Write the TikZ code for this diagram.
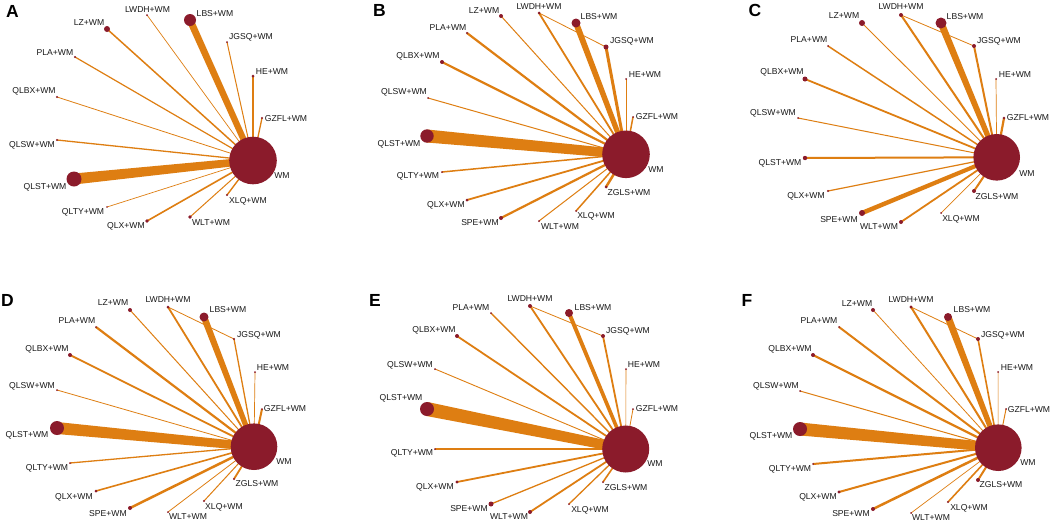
\documentclass[tikz,border=0pt]{standalone}
\usepackage{fontspec}
\setmainfont{Liberation Sans}
\usetikzlibrary{calc}
\definecolor{edgecol}{RGB}{222,126,18}
\definecolor{nodecol}{RGB}{139,27,43}
\pgfdeclarelayer{back}
\pgfdeclarelayer{edges}
\pgfsetlayers{back,edges,main}
\tikzset{
  netnode/.style={circle,fill=nodecol,draw=none,inner sep=0pt,outer sep=0pt},
  lbl/.style={inner sep=0pt,font=\fontsize{8.6}{10}\selectfont,text=black!90},
  ptitle/.style={inner sep=0pt,font=\fontsize{17.5}{20}\selectfont\bfseries},
}
\newcommand\nd[4]{\node[netnode,minimum size=#4*2pt] (#1) at (#2,#3) {};}
\newcommand\lb[4]{\node[lbl] (#1) at (#2,#3) {#4};}
\newcommand\ed[4]{\fill[edgecol] ($(#1.center)!#3*0.5pt!90:(#2.center)$) -- ($(#2.center)!#4*0.5pt!-90:(#1.center)$) -- ($(#2.center)!#4*0.5pt!90:(#1.center)$) -- ($(#1.center)!#3*0.5pt!-90:(#2.center)$) -- cycle;}
\begin{document}
\begin{tikzpicture}[x=1pt,y=-1pt]
\begin{pgfonlayer}{back}
\fill[white] (0,0) rectangle (1052,523);
\end{pgfonlayer}
\useasboundingbox (0,0) rectangle (1052,523);
% ================= Panel A
\node[ptitle] (ta) at (12.5,11) {A};
\nd{a-wm}{253}{160.5}{23.8}
\nd{a-lbs}{190}{20}{6}
\nd{a-lz}{107}{29}{3}
\nd{a-lwdh}{147}{15}{1}
\nd{a-jgsq}{227}{42}{1}
\nd{a-pla}{75}{57}{1.1}
\nd{a-he}{253}{76}{1.5}
\nd{a-qlbx}{57}{97}{1.1}
\nd{a-gzfl}{262}{118}{1.2}
\nd{a-qlsw}{57}{140}{1.1}
\nd{a-qlst}{74}{179}{7.5}
\nd{a-qlty}{107}{207}{0.9}
\nd{a-qlx}{147}{221}{1.8}
\nd{a-wlt}{190}{217}{1.8}
\nd{a-xlq}{227}{195}{1.2}
\lb{a-wm-l}{282}{176}{WM}
\lb{a-lbs-l}{215}{14}{LBS+WM}
\lb{a-lz-l}{89}{23}{LZ+WM}
\lb{a-lwdh-l}{147.5}{9.7}{LWDH+WM}
\lb{a-jgsq-l}{251}{37}{JGSQ+WM}
\lb{a-pla-l}{55}{53}{PLA+WM}
\lb{a-he-l}{272}{72}{HE+WM}
\lb{a-qlbx-l}{34}{91}{QLBX+WM}
\lb{a-gzfl-l}{286}{119}{GZFL+WM}
\lb{a-qlsw-l}{32}{145}{QLSW+WM}
\lb{a-qlst-l}{45}{187}{QLST+WM}
\lb{a-qlty-l}{83}{212}{QLTY+WM}
\lb{a-qlx-l}{126}{226}{QLX+WM}
\lb{a-wlt-l}{211}{223}{WLT+WM}
\lb{a-xlq-l}{248}{201}{XLQ+WM}
% ================= Panel B
\node[ptitle] (tb) at (379.5,10.5) {B};
\nd{b-wm}{626}{154.3}{23.8}
\nd{b-lz}{501}{16}{2}
\nd{b-lwdh}{539}{13}{1.5}
\nd{b-lbs}{576}{23}{4.5}
\nd{b-jgsq}{606}{47}{2.5}
\nd{b-pla}{467}{33}{1.1}
\nd{b-he}{626}{79}{1}
\nd{b-qlbx}{442}{62}{2}
\nd{b-gzfl}{633}{117}{1}
\nd{b-qlsw}{428}{98}{1}
\nd{b-qlst}{427}{136}{6.7}
\nd{b-qlty}{442}{172}{1}
\nd{b-qlx}{467}{200}{1.5}
\nd{b-spe}{501}{218}{2}
\nd{b-wlt}{539}{221}{1}
\nd{b-xlq}{576}{211}{1}
\nd{b-zgls}{606}{187}{1.5}
\lb{b-wm-l}{656}{170}{WM}
\lb{b-lz-l}{484}{10.3}{LZ+WM}
\lb{b-lwdh-l}{539}{6.3}{LWDH+WM}
\lb{b-lbs-l}{599}{17}{LBS+WM}
\lb{b-jgsq-l}{632}{41.7}{JGSQ+WM}
\lb{b-pla-l}{448}{28}{PLA+WM}
\lb{b-he-l}{645}{75}{HE+WM}
\lb{b-qlbx-l}{418}{56}{QLBX+WM}
\lb{b-gzfl-l}{657}{117}{GZFL+WM}
\lb{b-qlsw-l}{404}{92}{QLSW+WM}
\lb{b-qlst-l}{399}{144}{QLST+WM}
\lb{b-qlty-l}{418}{176}{QLTY+WM}
\lb{b-qlx-l}{446}{205}{QLX+WM}
\lb{b-spe-l}{480}{223}{SPE+WM}
\lb{b-wlt-l}{560}{227}{WLT+WM}
\lb{b-xlq-l}{596}{216}{XLQ+WM}
\lb{b-zgls-l}{629}{193}{ZGLS+WM}
% ================= Panel C
\node[ptitle] (tc) at (755,10.5) {C};
\nd{c-wm}{996.7}{157.3}{23.3}
\nd{c-lz}{862}{23}{3}
\nd{c-lwdh}{901}{15}{2}
\nd{c-lbs}{941}{23}{5.5}
\nd{c-jgsq}{974}{46}{2}
\nd{c-pla}{828}{46}{1}
\nd{c-he}{996}{79}{1}
\nd{c-qlbx}{805}{79}{2.5}
\nd{c-gzfl}{1004}{118}{1.3}
\nd{c-qlsw}{798}{118}{1}
\nd{c-qlst}{805}{158}{2.2}
\nd{c-qlx}{828}{191}{1.2}
\nd{c-spe}{862}{213}{3}
\nd{c-wlt}{901}{222}{2}
\nd{c-xlq}{941}{213}{1}
\nd{c-zgls}{974}{191}{2}
\lb{c-wm-l}{1027}{174}{WM}
\lb{c-lz-l}{844}{15.5}{LZ+WM}
\lb{c-lwdh-l}{901}{7}{LWDH+WM}
\lb{c-lbs-l}{965}{16.7}{LBS+WM}
\lb{c-jgsq-l}{999}{41}{JGSQ+WM}
\lb{c-pla-l}{809}{40}{PLA+WM}
\lb{c-he-l}{1015}{75}{HE+WM}
\lb{c-qlbx-l}{782}{72}{QLBX+WM}
\lb{c-gzfl-l}{1028}{118}{GZFL+WM}
\lb{c-qlsw-l}{773}{113}{QLSW+WM}
\lb{c-qlst-l}{780}{163}{QLST+WM}
\lb{c-qlx-l}{806}{196}{QLX+WM}
\lb{c-spe-l}{839}{220}{SPE+WM}
\lb{c-wlt-l}{879}{227}{WLT+WM}
\lb{c-xlq-l}{961}{219}{XLQ+WM}
\lb{c-zgls-l}{997}{197}{ZGLS+WM}
% ================= Panel D
\node[ptitle] (td) at (7.5,300) {D};
\nd{d-wm}{254}{446.7}{23.3}
\nd{d-lz}{130}{310}{2}
\nd{d-lwdh}{168}{307}{1.5}
\nd{d-lbs}{204}{317}{4.5}
\nd{d-jgsq}{234}{339}{1.2}
\nd{d-pla}{96}{327}{1}
\nd{d-he}{255}{372}{1}
\nd{d-qlbx}{70}{355}{2}
\nd{d-gzfl}{262}{409}{1}
\nd{d-qlsw}{57}{390}{1}
\nd{d-qlst}{57}{428}{7}
\nd{d-qlty}{70}{463}{1}
\nd{d-qlx}{96}{491}{1.5}
\nd{d-spe}{130}{508}{2}
\nd{d-wlt}{168}{512}{1}
\nd{d-xlq}{204}{501}{1.2}
\nd{d-zgls}{234}{479}{1.2}
\lb{d-wm-l}{284}{462}{WM}
\lb{d-lz-l}{113}{303}{LZ+WM}
\lb{d-lwdh-l}{168}{300}{LWDH+WM}
\lb{d-lbs-l}{228}{310}{LBS+WM}
\lb{d-jgsq-l}{259}{335}{JGSQ+WM}
\lb{d-pla-l}{77}{321}{PLA+WM}
\lb{d-he-l}{273}{368}{HE+WM}
\lb{d-qlbx-l}{47}{349}{QLBX+WM}
\lb{d-gzfl-l}{285}{409}{GZFL+WM}
\lb{d-qlsw-l}{32}{386}{QLSW+WM}
\lb{d-qlst-l}{27}{435}{QLST+WM}
\lb{d-qlty-l}{47}{468}{QLTY+WM}
\lb{d-qlx-l}{74}{497}{QLX+WM}
\lb{d-spe-l}{108}{514}{SPE+WM}
\lb{d-wlt-l}{188}{517}{WLT+WM}
\lb{d-xlq-l}{224}{507}{XLQ+WM}
\lb{d-zgls-l}{257}{484}{ZGLS+WM}
% ================= Panel E
\node[ptitle] (te) at (375,300) {E};
\nd{e-wm}{625.7}{449}{23.5}
\nd{e-lwdh}{530}{306}{2}
\nd{e-lbs}{569}{313}{4}
\nd{e-jgsq}{603}{336}{2}
\nd{e-pla}{491}{313}{1}
\nd{e-he}{626}{369}{1}
\nd{e-qlbx}{457}{336}{2}
\nd{e-gzfl}{633}{409}{1}
\nd{e-qlsw}{435}{369}{1}
\nd{e-qlst}{427}{409}{7}
\nd{e-qlty}{435}{449}{1}
\nd{e-qlx}{457}{482}{1.7}
\nd{e-spe}{491}{504}{2.5}
\nd{e-wlt}{530}{512}{2}
\nd{e-xlq}{569}{504}{1}
\nd{e-zgls}{603}{482}{1}
\lb{e-wm-l}{655}{464}{WM}
\lb{e-lwdh-l}{530}{299}{LWDH+WM}
\lb{e-lbs-l}{593}{308}{LBS+WM}
\lb{e-jgsq-l}{628}{331}{JGSQ+WM}
\lb{e-pla-l}{471}{308}{PLA+WM}
\lb{e-he-l}{644}{365}{HE+WM}
\lb{e-qlbx-l}{434}{330}{QLBX+WM}
\lb{e-gzfl-l}{657}{409}{GZFL+WM}
\lb{e-qlsw-l}{410}{365}{QLSW+WM}
\lb{e-qlst-l}{401}{398}{QLST+WM}
\lb{e-qlty-l}{412}{453}{QLTY+WM}
\lb{e-qlx-l}{435}{487}{QLX+WM}
\lb{e-spe-l}{469}{509}{SPE+WM}
\lb{e-wlt-l}{509}{517}{WLT+WM}
\lb{e-xlq-l}{590}{510}{XLQ+WM}
\lb{e-zgls-l}{626}{488}{ZGLS+WM}
% ================= Panel F
\node[ptitle] (tf) at (747,300) {F};
\nd{f-wm}{998.3}{447.7}{23.3}
\nd{f-lz}{873}{310}{2}
\nd{f-lwdh}{911}{307}{1.7}
\nd{f-lbs}{948}{317}{4}
\nd{f-jgsq}{978}{339}{2}
\nd{f-pla}{839}{327}{1}
\nd{f-he}{998}{372}{1}
\nd{f-qlbx}{813}{355}{2}
\nd{f-gzfl}{1006}{409}{1}
\nd{f-qlsw}{800}{391}{1}
\nd{f-qlst}{800}{429}{7}
\nd{f-qlty}{813}{464}{1}
\nd{f-qlx}{839}{492}{1.7}
\nd{f-spe}{873}{509}{2}
\nd{f-wlt}{911}{513}{1}
\nd{f-xlq}{948}{502}{1.2}
\nd{f-zgls}{978}{480}{2}
\lb{f-wm-l}{1028}{463}{WM}
\lb{f-lz-l}{857}{304}{LZ+WM}
\lb{f-lwdh-l}{911}{300}{LWDH+WM}
\lb{f-lbs-l}{972}{310}{LBS+WM}
\lb{f-jgsq-l}{1003}{335}{JGSQ+WM}
\lb{f-pla-l}{819}{321}{PLA+WM}
\lb{f-he-l}{1017}{368}{HE+WM}
\lb{f-qlbx-l}{790}{349}{QLBX+WM}
\lb{f-gzfl-l}{1029}{410}{GZFL+WM}
\lb{f-qlsw-l}{776}{386}{QLSW+WM}
\lb{f-qlst-l}{771}{436}{QLST+WM}
\lb{f-qlty-l}{790}{469}{QLTY+WM}
\lb{f-qlx-l}{818}{497}{QLX+WM}
\lb{f-spe-l}{851}{514}{SPE+WM}
\lb{f-wlt-l}{931}{518}{WLT+WM}
\lb{f-xlq-l}{969}{508}{XLQ+WM}
\lb{f-zgls-l}{1001}{485}{ZGLS+WM}
% ================= Edges
\begin{pgfonlayer}{edges}
% A
\ed{a-lbs}{a-wm}{7}{6}
\ed{a-qlst}{a-wm}{11}{7}
\ed{a-lz}{a-wm}{1.5}{1.5}
\ed{a-lwdh}{a-wm}{0.7}{0.7}
\ed{a-pla}{a-wm}{1.2}{1.2}
\ed{a-qlbx}{a-wm}{0.8}{0.8}
\ed{a-qlsw}{a-wm}{1.3}{1.3}
\ed{a-qlty}{a-wm}{0.7}{0.7}
\ed{a-qlx}{a-wm}{1.6}{1.6}
\ed{a-wlt}{a-wm}{1.0}{1.0}
\ed{a-xlq}{a-wm}{1.4}{1.4}
\ed{a-jgsq}{a-wm}{1.0}{1.0}
\ed{a-he}{a-wm}{1.3}{1.3}
\ed{a-gzfl}{a-wm}{1.3}{1.3}
% B
\ed{b-lbs}{b-wm}{6}{5}
\ed{b-qlst}{b-wm}{13}{9}
\ed{b-jgsq}{b-wm}{3}{3}
\ed{b-lz}{b-wm}{1}{1}
\ed{b-lwdh}{b-wm}{1.8}{1.8}
\ed{b-pla}{b-wm}{2.2}{2.2}
\ed{b-qlbx}{b-wm}{2.2}{2.2}
\ed{b-qlsw}{b-wm}{1}{1}
\ed{b-qlty}{b-wm}{1.5}{1.5}
\ed{b-qlx}{b-wm}{1.8}{1.8}
\ed{b-spe}{b-wm}{2.2}{2.2}
\ed{b-wlt}{b-wm}{1}{1}
\ed{b-xlq}{b-wm}{1.5}{1.5}
\ed{b-zgls}{b-wm}{2.5}{2.5}
\ed{b-he}{b-wm}{0.7}{0.7}
\ed{b-gzfl}{b-wm}{1.5}{1.5}
\ed{b-lwdh}{b-jgsq}{0.8}{0.8}
% C
\ed{c-lbs}{c-wm}{7}{5}
\ed{c-qlst}{c-wm}{2}{2}
\ed{c-spe}{c-wm}{4.5}{4}
\ed{c-lwdh}{c-wm}{2}{2}
\ed{c-jgsq}{c-wm}{2}{2}
\ed{c-gzfl}{c-wm}{2.2}{2.2}
\ed{c-qlbx}{c-wm}{1.8}{1.8}
\ed{c-pla}{c-wm}{1.5}{1.5}
\ed{c-lz}{c-wm}{0.9}{0.9}
\ed{c-qlsw}{c-wm}{1}{1}
\ed{c-qlx}{c-wm}{1.2}{1.2}
\ed{c-he}{c-wm}{0.7}{0.7}
\ed{c-wlt}{c-wm}{1.8}{1.8}
\ed{c-xlq}{c-wm}{0.7}{0.7}
\ed{c-zgls}{c-wm}{2}{2}
\ed{c-lwdh}{c-jgsq}{0.8}{0.8}
% D
\ed{d-lbs}{d-wm}{6.5}{5}
\ed{d-qlst}{d-wm}{12}{8}
\ed{d-pla}{d-wm}{2.2}{2.2}
\ed{d-qlbx}{d-wm}{1.8}{1.8}
\ed{d-lwdh}{d-wm}{1.8}{1.8}
\ed{d-lz}{d-wm}{1}{1}
\ed{d-qlsw}{d-wm}{0.8}{0.8}
\ed{d-qlty}{d-wm}{1.3}{1.3}
\ed{d-qlx}{d-wm}{1.6}{1.6}
\ed{d-spe}{d-wm}{2.5}{2.5}
\ed{d-wlt}{d-wm}{0.8}{0.8}
\ed{d-xlq}{d-wm}{1}{1}
\ed{d-zgls}{d-wm}{1.8}{1.8}
\ed{d-he}{d-wm}{0.7}{0.7}
\ed{d-jgsq}{d-wm}{1.3}{1.3}
\ed{d-gzfl}{d-wm}{2}{2}
\ed{d-lwdh}{d-jgsq}{0.8}{0.8}
% E
\ed{e-lbs}{e-wm}{4}{3.5}
\ed{e-qlst}{e-wm}{14}{9}
\ed{e-lwdh}{e-wm}{1.8}{1.8}
\ed{e-pla}{e-wm}{1.4}{1.4}
\ed{e-qlbx}{e-wm}{1.8}{1.8}
\ed{e-qlsw}{e-wm}{0.9}{0.9}
\ed{e-qlty}{e-wm}{1.3}{1.3}
\ed{e-qlx}{e-wm}{1.8}{1.8}
\ed{e-spe}{e-wm}{1.3}{1.3}
\ed{e-wlt}{e-wm}{1.8}{1.8}
\ed{e-xlq}{e-wm}{1.3}{1.3}
\ed{e-zgls}{e-wm}{1.6}{1.6}
\ed{e-he}{e-wm}{0.6}{0.6}
\ed{e-jgsq}{e-wm}{1.8}{1.8}
\ed{e-gzfl}{e-wm}{0.8}{0.8}
\ed{e-lwdh}{e-jgsq}{0.8}{0.8}
% F
\ed{f-lbs}{f-wm}{7}{5}
\ed{f-qlst}{f-wm}{13}{9}
\ed{f-lwdh}{f-wm}{2}{2}
\ed{f-pla}{f-wm}{2}{2}
\ed{f-qlbx}{f-wm}{2.2}{2.2}
\ed{f-lz}{f-wm}{0.8}{0.8}
\ed{f-qlsw}{f-wm}{1}{1}
\ed{f-qlty}{f-wm}{2}{2}
\ed{f-qlx}{f-wm}{2}{2}
\ed{f-spe}{f-wm}{2.5}{2.5}
\ed{f-wlt}{f-wm}{0.7}{0.7}
\ed{f-xlq}{f-wm}{1.6}{1.6}
\ed{f-zgls}{f-wm}{2}{2}
\ed{f-he}{f-wm}{0.5}{0.5}
\ed{f-jgsq}{f-wm}{1.6}{1.6}
\ed{f-gzfl}{f-wm}{1}{1}
\ed{f-lwdh}{f-jgsq}{0.8}{0.8}
\end{pgfonlayer}
\end{tikzpicture}
\end{document}
